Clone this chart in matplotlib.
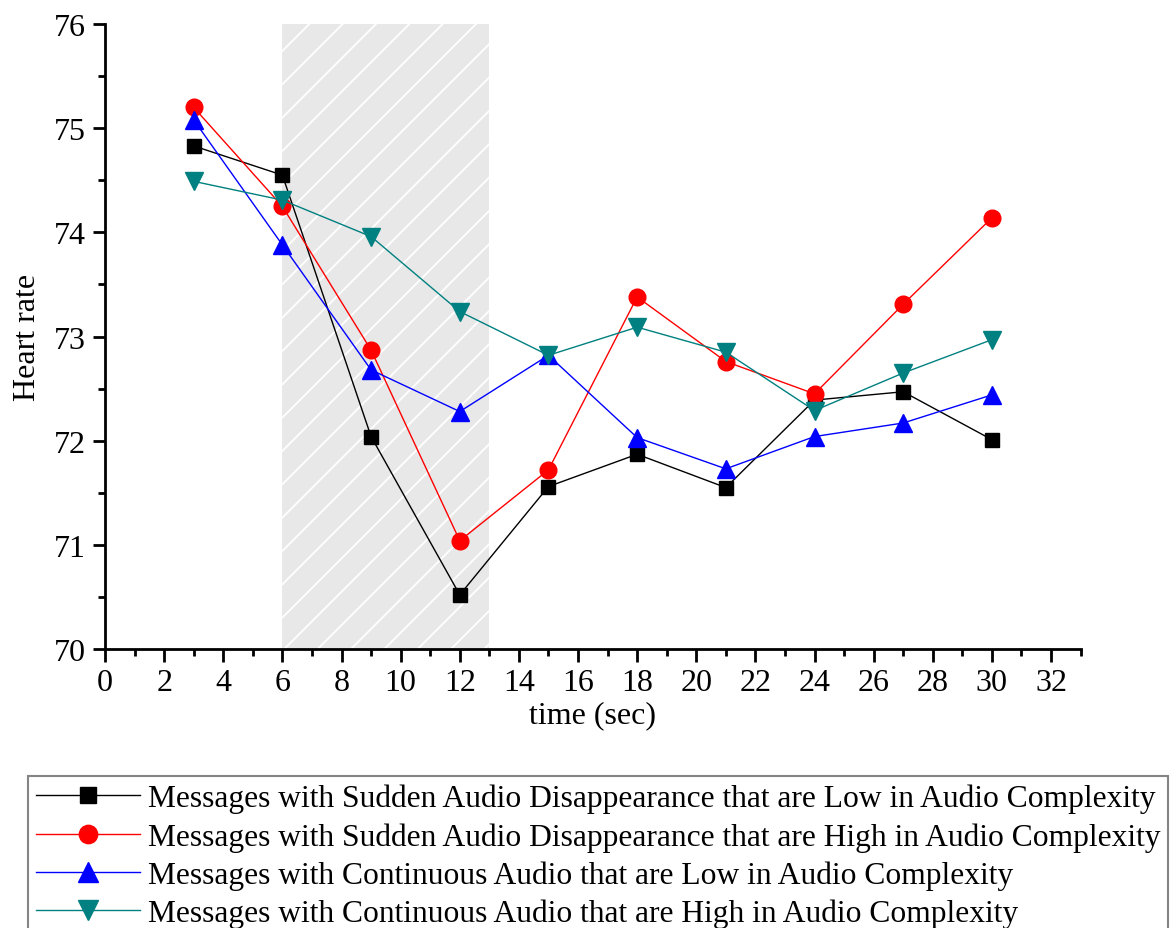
import matplotlib
matplotlib.use('Agg')
import matplotlib.pyplot as plt
from matplotlib.ticker import MultipleLocator

plt.rcParams['font.family'] = ['Liberation Serif', 'DejaVu Serif']
plt.rcParams['hatch.color'] = 'white'
plt.rcParams['hatch.linewidth'] = 1.3

# time points (sec)
t = [3, 6, 9, 12, 15, 18, 21, 24, 27, 30]

# heart rate per message type
sudden_low = [74.83, 74.55, 72.04, 70.52, 71.56, 71.87, 71.55, 72.39, 72.47, 72.01]
sudden_high = [75.20, 74.25, 72.87, 71.04, 71.72, 73.38, 72.76, 72.45, 73.31, 74.14]
cont_low = [75.08, 73.88, 72.68, 72.28, 72.82, 72.03, 71.73, 72.04, 72.17, 72.44]
cont_high = [74.49, 74.31, 73.96, 73.24, 72.82, 73.09, 72.85, 72.29, 72.65, 72.97]

labels = [
    'Messages with Sudden Audio Disappearance that are Low in Audio Complexity',
    'Messages with Sudden Audio Disappearance that are High in Audio Complexity',
    'Messages with Continuous Audio that are Low in Audio Complexity',
    'Messages with Continuous Audio that are High in Audio Complexity',
]

shade = (6, 13)  # shaded interval

fig = plt.figure(figsize=(11.72, 9.29), dpi=100)
ax = fig.add_axes([0.0896, 0.3003, 0.8324, 0.6727])

ax.axvspan(shade[0], shade[1], facecolor='#e8e8e8', edgecolor='white',
           hatch='/', linewidth=0, zorder=0)

l1, = ax.plot(t, sudden_low, '-s', color='black', lw=1, ms=10, label=labels[0])
l2, = ax.plot(t, sudden_high, '-o', color='red', lw=1, ms=12, label=labels[1])
l3, = ax.plot(t, cont_low, '-^', color='blue', lw=1, ms=13, label=labels[2])
l4, = ax.plot(t, cont_high, '-v', color='#008080', lw=1, ms=13, label=labels[3])

ax.set_xlim(0, 33)
ax.set_ylim(70, 76)
ax.xaxis.set_major_locator(MultipleLocator(2))
ax.xaxis.set_minor_locator(MultipleLocator(1))
ax.yaxis.set_major_locator(MultipleLocator(1))
ax.yaxis.set_minor_locator(MultipleLocator(0.5))

for s in ['top', 'right']:
    ax.spines[s].set_visible(False)
for s in ['left', 'bottom']:
    ax.spines[s].set_linewidth(2)

ax.tick_params(which='major', direction='out', length=9, width=2, labelsize=23, pad=5)
ax.tick_params(which='minor', direction='out', length=5, width=2)

ax.set_xlabel('time (sec)', fontsize=23, labelpad=2)
ax.set_ylabel('Heart rate', fontsize=23, labelpad=8)

leg = fig.legend(handles=[l1, l2, l3, l4], loc='upper left',
                 bbox_to_anchor=(28 / 1172, 1 - 777 / 929), fontsize=22.7,
                 frameon=True, fancybox=False, edgecolor='#666666',
                 handlelength=3.3, handletextpad=0.25, borderpad=0.25,
                 labelspacing=0.28, borderaxespad=0, markerscale=1.1)
leg.get_frame().set_linewidth(1.5)

fig.savefig('out.png', dpi=100)
